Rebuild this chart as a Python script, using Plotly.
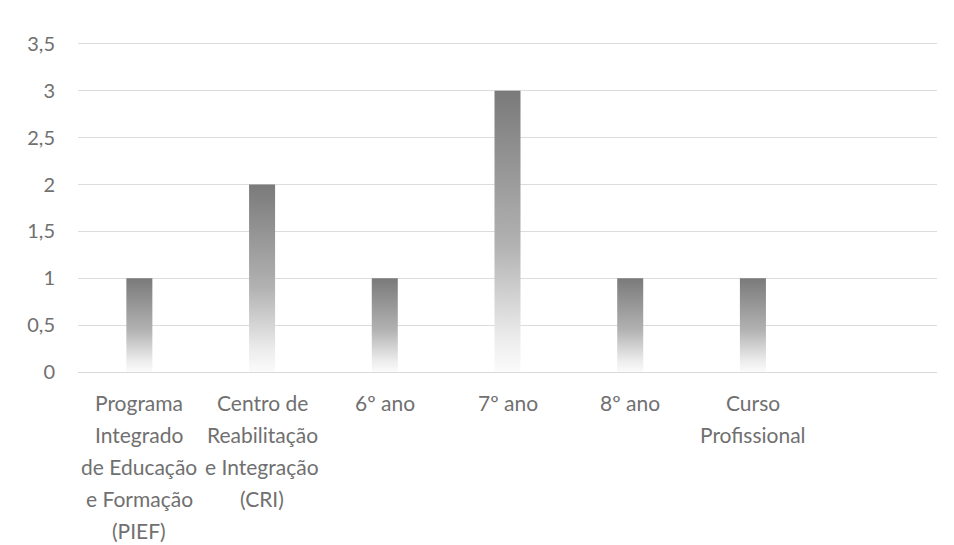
import plotly.graph_objects as go

# Categories (the last slot is left empty on purpose); "\n" marks line breaks
categories = [
    "Programa\nIntegrado\nde Educação\ne Formação\n(PIEF)",
    "Centro de\nReabilitação\ne Integração\n(CRI)",
    "6º ano",
    "7º ano",
    "8º ano",
    "Curso\nProfissional",
    "",
]
values = [1, 2, 1, 3, 1, 1]

y_ticks = [0, 0.5, 1, 1.5, 2, 2.5, 3, 3.5]

BAR_HALF = 0.106
FONT = "Lato, Calibri, Carlito, sans-serif"
TEXT = "#707070"
LABEL_SIZE = 21
FIRST_LINE = 30  # px from the axis to the first label line
LINE_STEP = 32   # px between label lines

fig = go.Figure()

# Each bar is a filled rectangle with a vertical white-to-grey gradient
for i, v in enumerate(values):
    fig.add_trace(go.Scatter(
        x=[i - BAR_HALF, i - BAR_HALF, i + BAR_HALF, i + BAR_HALF],
        y=[0, v, v, 0],
        mode="lines",
        fill="toself",
        line=dict(width=0),
        fillgradient=dict(
            type="vertical",
            colorscale=[[0, "#fbfbfb"], [0.12, "#ececec"], [0.45, "#b2b2b2"], [1, "#7a7a7a"]],
        ),
        hoverinfo="skip",
        showlegend=False,
    ))

# Category labels, one annotation per line so the line spacing is open
annotations = []
for i, label in enumerate(categories):
    if not label:
        continue
    for j, line in enumerate(label.split("\n")):
        annotations.append(dict(
            x=i, xref="x",
            y=0, yref="paper",
            yanchor="middle", xanchor="center",
            yshift=-(FIRST_LINE + LINE_STEP * j),
            text=line,
            showarrow=False,
            font=dict(size=LABEL_SIZE, color=TEXT, family=FONT),
        ))

fig.update_layout(
    width=954,
    height=545,
    margin=dict(l=78, r=17, t=42, b=173),
    paper_bgcolor="white",
    plot_bgcolor="white",
    separators=", ",
    font=dict(family=FONT, color=TEXT, size=20),
    showlegend=False,
    annotations=annotations,
)

fig.update_xaxes(
    range=[-0.5, len(categories) - 0.5],
    tickmode="array",
    tickvals=list(range(len(categories))),
    ticktext=[""] * len(categories),
    showgrid=False,
    zeroline=False,
    showline=True,
    linecolor="#d9d9d9",
    linewidth=1,
    ticks="",
    fixedrange=True,
)

fig.update_yaxes(
    range=[0, 3.52],
    tickmode="array",
    tickvals=y_ticks,
    showgrid=True,
    gridcolor="#dcdcdc",
    gridwidth=1,
    zeroline=False,
    showline=False,
    ticks="",
    ticklabelstandoff=22,
    tickfont=dict(size=20, color=TEXT, family=FONT),
    fixedrange=True,
)

fig.write_html("out.html")
